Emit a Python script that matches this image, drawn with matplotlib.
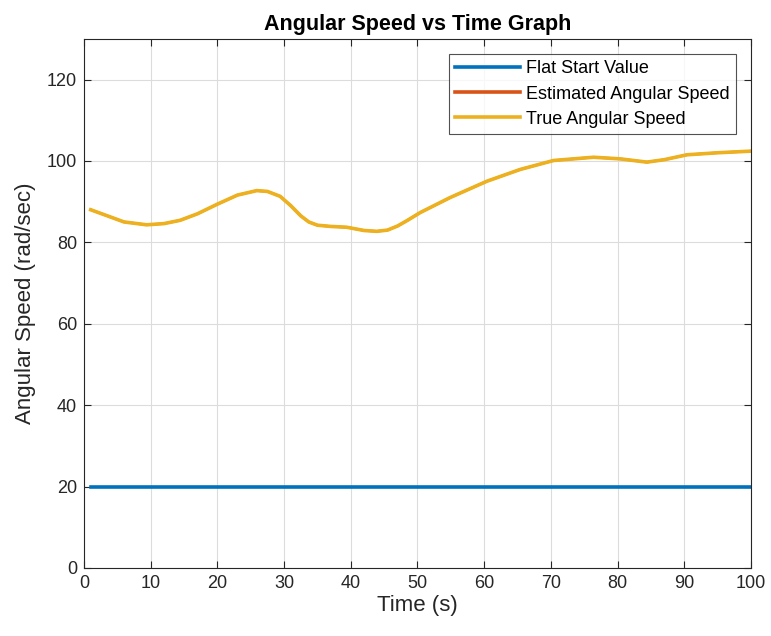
import matplotlib.pyplot as plt
import numpy as np

plt.rcParams['font.family'] = ['Liberation Sans', 'DejaVu Sans']

# values
time_s = [1, 3, 6, 9.4, 12, 14.4, 17, 19.9, 23, 25.9, 27.5, 29.4, 31, 32.5,
          33.7, 35, 37, 39.4, 42, 43.9, 45.5, 47, 48.5, 50.4, 54.9, 60.4, 65.4,
          70.4, 76.4, 80.4, 84.4, 87, 90.4, 95, 100]
true_speed = [88.0, 86.8, 85.0, 84.3, 84.6, 85.4, 87.0, 89.3, 91.6, 92.7, 92.5,
              91.3, 89.0, 86.5, 85.0, 84.2, 83.9, 83.7, 82.9, 82.7, 83.0, 84.0,
              85.4, 87.3, 91.0, 95.0, 97.9, 100.1, 100.9, 100.5, 99.7, 100.3,
              101.5, 102.0, 102.4]
est_speed = true_speed
flat_t = [1, 100]
flat_value = [20, 20]

c_blue = (0, 0.447, 0.741)
c_red = (0.85, 0.325, 0.098)
c_yel = (0.929, 0.694, 0.125)

fig = plt.figure(figsize=(7.71, 6.36), dpi=100)
ax = fig.add_axes([0.109, 0.107, 0.865, 0.832])

ax.plot(flat_t, flat_value, color=c_blue, lw=2.6, label='Flat Start Value')
l_est, = ax.plot(time_s, est_speed, color=c_red, lw=2.6, label='Estimated Angular Speed')
ax.plot(time_s, true_speed, color=c_yel, lw=2.6, label='True Angular Speed')
l_est.set_linewidth(1.8)  # hidden under the true curve

ax.set_xlim(0, 100)
ax.set_ylim(0, 130)
ax.set_xticks(np.arange(0, 101, 10))
ax.set_yticks(np.arange(0, 121, 20))
ax.grid(True, color='#dcdcdc', lw=0.8)
ax.set_axisbelow(True)
ax.tick_params(direction='in', top=True, right=True, labelsize=13,
               colors='#262626', length=5, pad=5)
for s in ax.spines.values():
    s.set_color('#262626')
    s.set_linewidth(0.8)

ax.set_title('Angular Speed vs Time Graph', fontsize=15.5, fontweight='bold', pad=6)
ax.set_xlabel('Time (s)', fontsize=16, color='#262626', labelpad=2)
ax.set_ylabel('Angular Speed (rad/sec)', fontsize=16, color='#262626', labelpad=8)

leg = ax.legend(loc='upper right', fontsize=13, frameon=True, fancybox=False,
                edgecolor='#262626', borderaxespad=0.85, handlelength=3.6,
                labelspacing=0.45, handletextpad=0.3, borderpad=0.35)
leg.get_frame().set_linewidth(0.8)
for h in leg.get_lines():
    h.set_linewidth(2.6)

fig.savefig('out.png', dpi=100)
